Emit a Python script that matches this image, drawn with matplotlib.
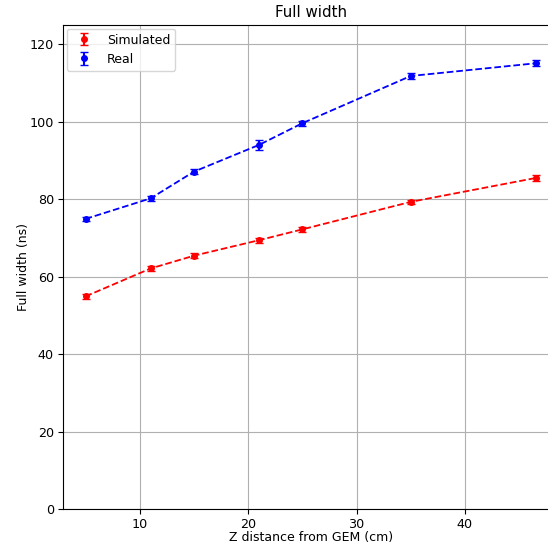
import matplotlib
matplotlib.use("Agg")
import matplotlib.pyplot as plt

z = [5, 11, 15, 21, 25, 35, 46.6]
sim = [54.9, 62.1, 65.4, 69.4, 72.2, 79.3, 85.5]
sim_err = [0.6, 0.7, 0.6, 0.6, 0.6, 0.6, 0.7]
real = [74.9, 80.2, 87.1, 94.0, 99.6, 111.8, 115.1]
real_err = [0.6, 0.7, 0.7, 1.3, 0.6, 0.9, 0.7]

plt.rcParams['font.size'] = 9
fig = plt.figure(figsize=(5.48, 5.44), dpi=100)
ax = fig.add_axes([0.115, 0.0643, 0.905, 0.89])
ax.plot(z, sim, '--', color='red', lw=1.3)
ax.plot(z, real, '--', color='blue', lw=1.3)
ax.errorbar(z, sim, yerr=sim_err, fmt='o', color='red', markersize=4, capsize=3, label='Simulated')
ax.errorbar(z, real, yerr=real_err, fmt='o', color='blue', markersize=4, capsize=3, label='Real')
ax.set_ylim(0, 125)
ax.grid(True)
ax.tick_params(labelsize=9.2, length=3.5, pad=3)
ax.set_title('Full width', fontsize=10.8)
ax.set_xlabel('Z distance from GEM (cm)')
ax.set_ylabel('Full width (ns)')
ax.xaxis.set_label_coords(0.5, -0.046)
ax.yaxis.set_label_coords(-0.066, 0.5)
ax.legend(loc='upper left', fontsize=9, borderaxespad=0.3)
fig.savefig('out.png', dpi=100)
